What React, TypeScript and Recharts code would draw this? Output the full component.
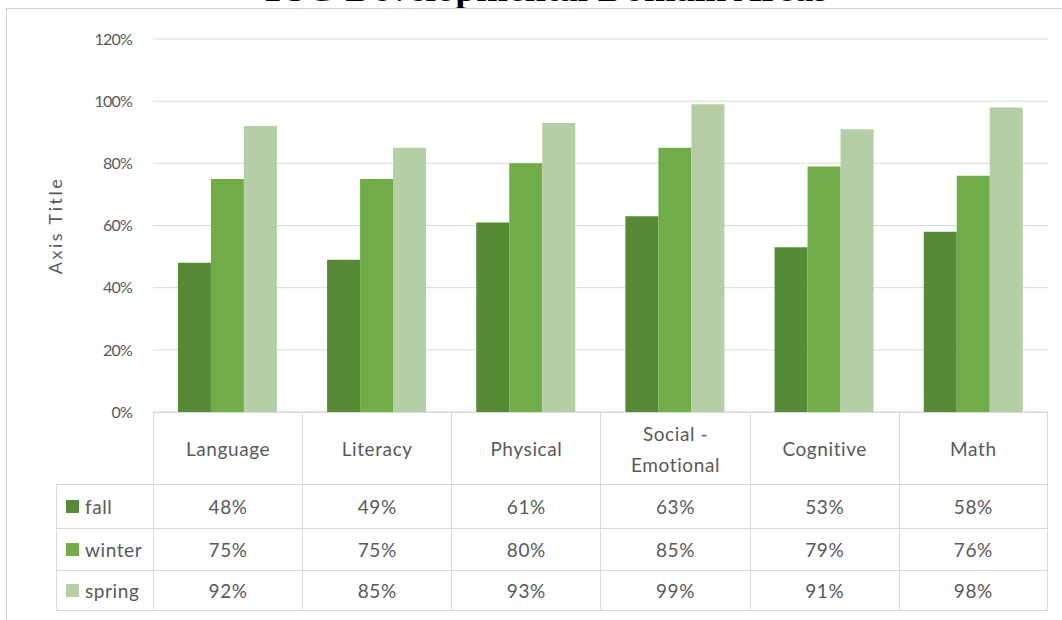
import { BarChart, Bar, XAxis, YAxis, CartesianGrid } from "recharts";

const CATEGORIES = ["Language", "Literacy", "Physical", "Social - Emotional", "Cognitive", "Math"];
const FALL = [48, 49, 61, 63, 53, 58];
const WINTER = [75, 75, 80, 85, 79, 76];
const SPRING = [92, 85, 93, 99, 91, 98];
const Y_TICKS = [0, 20, 40, 60, 80, 100, 120];

const FALL_COLOR = "#568b36";
const WINTER_COLOR = "#70ad47";
const SPRING_COLOR = "#b4cfa5";
const TEXT = "#595959";
const LINE = "#d9d9d9";
const FONT = "Lato, 'Open Sans', sans-serif";

const SERIES = [
  { key: "fall", label: "fall", values: FALL, color: FALL_COLOR },
  { key: "winter", label: "winter", values: WINTER, color: WINTER_COLOR },
  { key: "spring", label: "spring", values: SPRING, color: SPRING_COLOR },
];

const data = CATEGORIES.map((name, i) => ({
  name,
  fall: FALL[i],
  winter: WINTER[i],
  spring: SPRING[i],
}));

// table geometry, lines up with the plot band (x 153..1048)
const LEFT_COL = 97;
const COL = (1048 - 153) / 6;
const ROWS = [72, 44, 42, 41];

function cell(col: number, row: number): React.CSSProperties {
  const blank = col === 0 && row === 0;
  return {
    boxSizing: "border-box",
    borderLeft: blank ? "none" : `1px solid ${LINE}`,
    borderTop: blank ? "none" : `1px solid ${LINE}`,
    borderRight: col === 6 ? `1px solid ${LINE}` : "none",
    borderBottom: row === 3 ? `1px solid ${LINE}` : "none",
    display: "flex",
    alignItems: "center",
    justifyContent: col === 0 ? "flex-start" : "center",
    textAlign: "center",
    whiteSpace: "pre-line",
    lineHeight: "31px",
  };
}

function DataTable() {
  return (
    <div
      style={{
        position: "absolute",
        left: 56,
        top: 412,
        display: "grid",
        gridTemplateColumns: `${LEFT_COL}px repeat(6, ${COL}px)`,
        gridTemplateRows: ROWS.map((h) => `${h}px`).join(" "),
        fontFamily: FONT,
        fontSize: 19,
        letterSpacing: 0.6,
        color: TEXT,
      }}
    >
      <div style={cell(0, 0)} />
      {CATEGORIES.map((c, i) => (
        <div key={c} style={cell(i + 1, 0)}>
          {c.replace(" - ", " -\n")}
        </div>
      ))}
      {SERIES.map((s, r) => (
        <>
          <div key={s.key} style={{ ...cell(0, r + 1), paddingLeft: 9 }}>
            <span style={{ width: 13, height: 13, background: s.color, marginRight: 6, display: "inline-block" }} />
            {s.label}
          </div>
          {s.values.map((v, i) => (
            <div key={s.key + i} style={cell(i + 1, r + 1)}>
              {v}%
            </div>
          ))}
        </>
      ))}
    </div>
  );
}

export default function App() {
  return (
    <div style={{ position: "absolute", left: 0, top: 0, width: 1062, height: 620, background: "#fff", overflow: "hidden" }}>
      <div
        style={{
          position: "absolute",
          left: 26,
          top: -31,
          width: 1036,
          textAlign: "center",
          fontFamily: "'Liberation Serif', serif",
          fontWeight: "bold",
          fontSize: 38,
          lineHeight: "38px",
          color: "#000",
        }}
      >
        TSG Developmental Domain Areas
      </div>
      <div style={{ position: "absolute", left: 6, top: 8, width: 1062, height: 620, borderTop: "1px solid #d0d0d0", borderLeft: "1px solid #d0d0d0" }} />
      <div style={{ position: "absolute", left: 0, top: 0 }}>
        <BarChart
          width={1062}
          height={620}
          data={data}
          margin={{ top: 39, right: 14, bottom: 208, left: 0 }}
          barCategoryGap="16.7%"
          barGap={0}
        >
          <CartesianGrid vertical={false} stroke={LINE} />
          <XAxis dataKey="name" hide />
          <YAxis
            width={153}
            domain={[0, 120]}
            ticks={Y_TICKS}
            tickFormatter={(v) => `${v}%`}
            axisLine={false}
            tickLine={false}
            tickSize={0}
            tickMargin={21}
            tick={{ fill: TEXT, fontSize: 16, fontFamily: FONT, letterSpacing: -0.8 }}
            label={{
              value: "Axis Title",
              angle: -90,
              position: "insideLeft",
              offset: 56,
              style: { textAnchor: "middle", fill: TEXT, fontSize: 18, fontFamily: FONT, letterSpacing: 2.5 },
            }}
          />
          {SERIES.map((s) => (
            <Bar key={s.key} dataKey={s.key} name={s.label} fill={s.color} isAnimationActive={false} />
          ))}
        </BarChart>
      </div>
      <DataTable />
    </div>
  );
}
